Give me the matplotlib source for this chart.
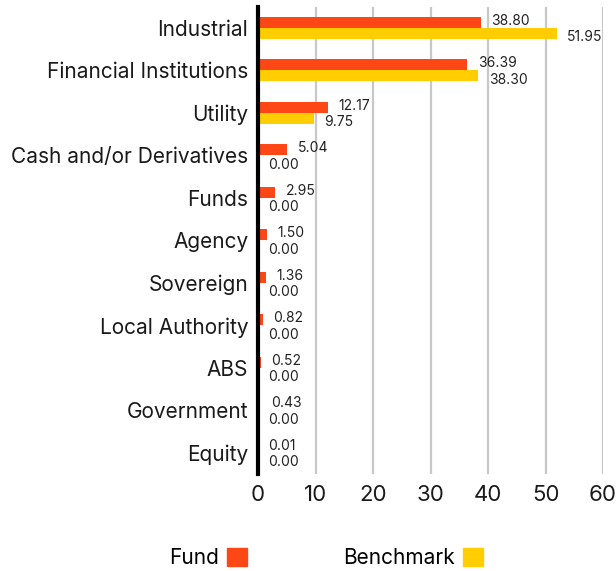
import matplotlib
matplotlib.use("Agg")
import matplotlib.pyplot as plt
from matplotlib.patches import Patch
import numpy as np

categories = ["Industrial", "Financial Institutions", "Utility", "Cash and/or Derivatives",
              "Funds", "Agency", "Sovereign", "Local Authority", "ABS", "Government", "Equity"]
fund = [38.80, 36.39, 12.17, 5.04, 2.95, 1.50, 1.36, 0.82, 0.52, 0.43, 0.01]
benchmark = [51.95, 38.30, 9.75, 0.00, 0.00, 0.00, 0.00, 0.00, 0.00, 0.00, 0.00]
xticks = [0, 10, 20, 30, 40, 50, 60]

FUND_C = "#FF4615"
BENCH_C = "#FFCD00"

plt.rcParams['font.family'] = ['Inter', 'DejaVu Sans']

W, H = 616, 571
fig = plt.figure(figsize=(W / 100, H / 100), dpi=100)
top_px, bot_px = 6.5, 474.0
ax = fig.add_axes([258 / W, 1 - bot_px / H, (603 - 258) / W, (bot_px - top_px) / H])

y = np.arange(len(categories))
bh = 0.26
ax.barh(y - bh / 2, fund, height=bh, color=FUND_C, zorder=2)
ax.barh(y + bh / 2, benchmark, height=bh, color=BENCH_C, zorder=2)

for yi, f, b in zip(y, fund, benchmark):
    ax.annotate(f"{f:.2f}", (f, yi - bh / 2), xytext=(7.5, 1.2), textcoords="offset points",
                va="center", ha="left", fontsize=10, color="#222222")
    ax.annotate(f"{b:.2f}", (b, yi + bh / 2), xytext=(7.5, -3.0), textcoords="offset points",
                va="center", ha="left", fontsize=10, color="#222222")

ax.set_ylim(len(categories) - 0.5, -0.5)
ax.set_xlim(0, 60)
ax.set_yticks(y)
ax.set_yticklabels(categories, fontsize=15, color="#1a1a1a")
ax.set_xticks(xticks)
ax.set_xticklabels([str(t) for t in xticks], fontsize=16, color="#1a1a1a")
ax.tick_params(axis="both", length=0)
ax.tick_params(axis="y", pad=7)
ax.tick_params(axis="x", pad=8)

for s in ["top", "right", "bottom"]:
    ax.spines[s].set_visible(False)
ax.spines["left"].set_linewidth(3)
ax.spines["left"].set_color("black")
ax.spines["left"].set_zorder(5)

ax.grid(axis="x", color="#c8c8c8", linewidth=1.6, zorder=0)
ax.set_axisbelow(True)

handles = [Patch(color=FUND_C), Patch(color=BENCH_C)]
fig.legend(handles, ["Fund", "Benchmark"], loc="center", bbox_to_anchor=(326 / W, 1 - 558 / H),
           ncol=2, frameon=False, markerfirst=False, fontsize=15, handlelength=0.95,
           handleheight=0.95, handletextpad=0.4, columnspacing=4.6)

fig.savefig("out.png", dpi=100)
